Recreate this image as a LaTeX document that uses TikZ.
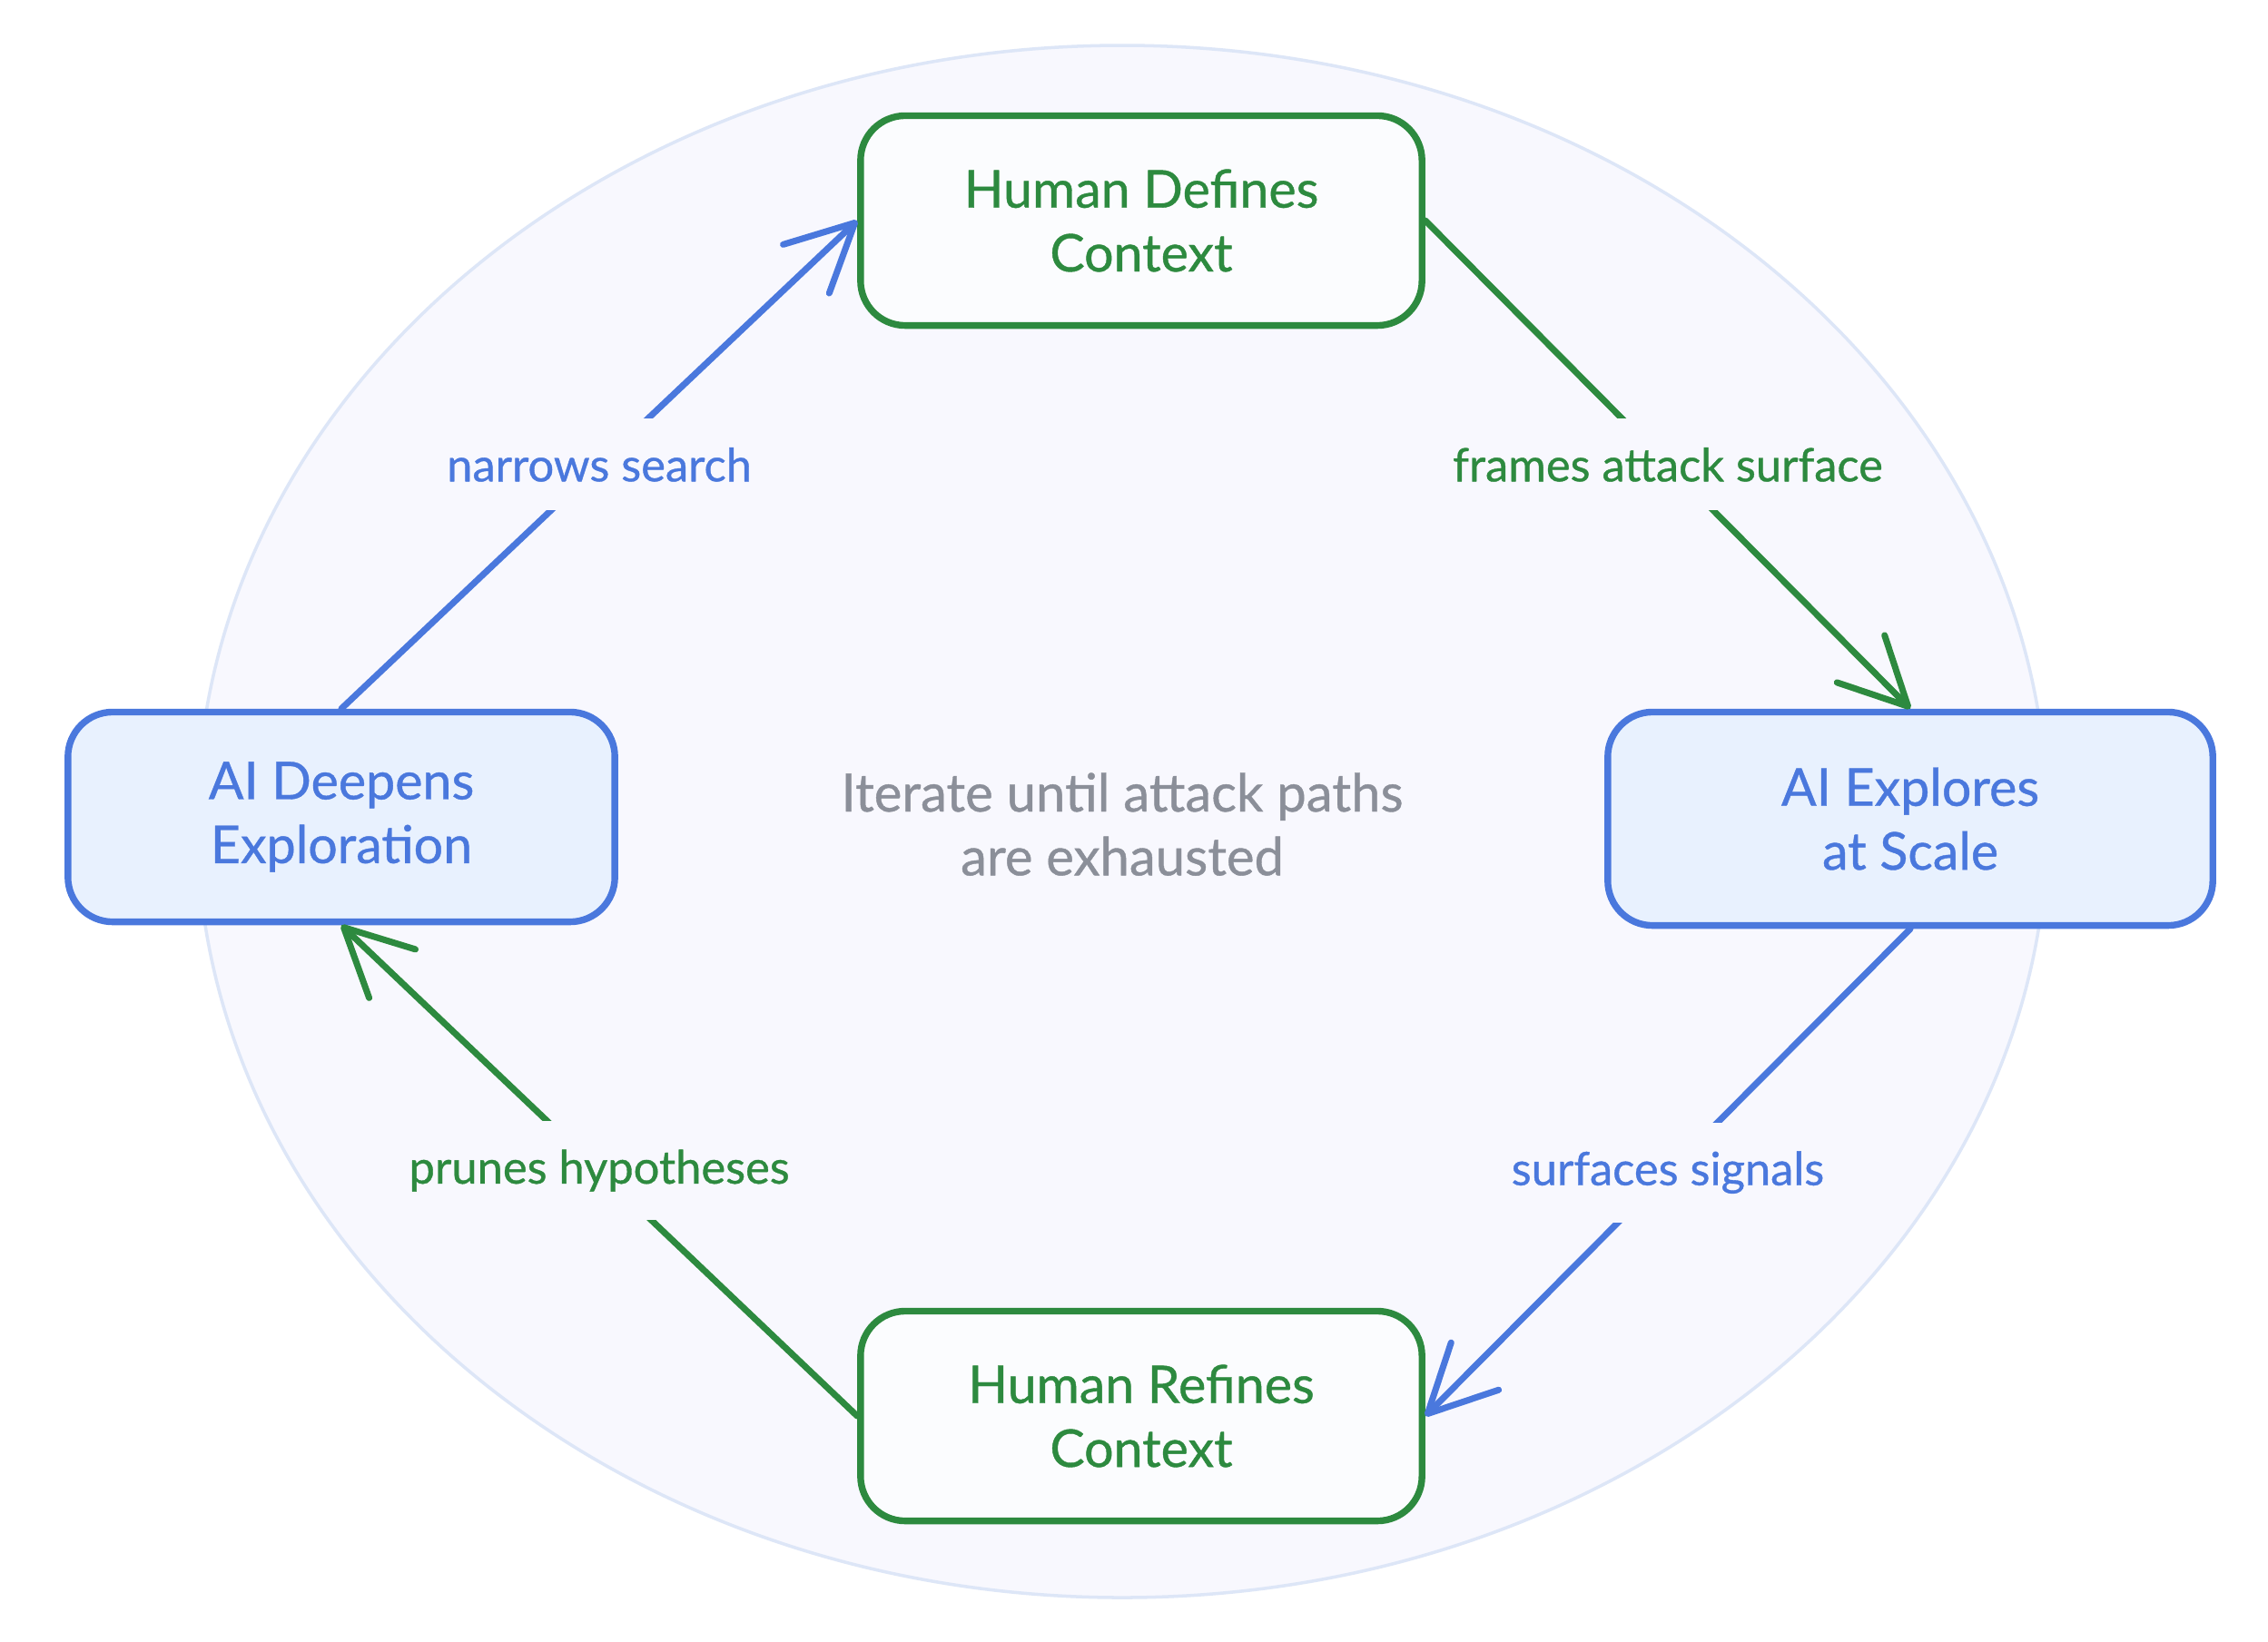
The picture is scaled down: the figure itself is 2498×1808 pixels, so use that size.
\documentclass[tikz,border=0pt]{standalone}
\usepackage{fontspec}
\setmainfont{Lato}[FakeBold=0.7]
\usetikzlibrary{arrows.meta}
\definecolor{gr}{HTML}{2D8A3F}
\definecolor{bl}{HTML}{4A78DD}
\definecolor{blfill}{HTML}{E8F1FE}
\definecolor{grfill}{HTML}{FBFCFE}
\definecolor{gy}{HTML}{8B8F99}
\definecolor{ellfill}{HTML}{F8F8FE}
\definecolor{elldraw}{HTML}{DDE6F7}
\tikzset{
  box/.style={rounded corners=14pt, line width=2.1pt, align=center, inner sep=0pt,
    font=\fontsize{16.3}{20}\selectfont},
  hbox/.style={box, draw=gr, fill=grfill, text=gr},
  abox/.style={box, draw=bl, fill=blfill, text=bl},
  conn/.style={line width=2pt, line cap=round, line join=round,
    -{Straight Barb[length=21pt,width=21pt,line width=2pt,round]}},
  lbl/.style={fill=ellfill, inner sep=9pt, font=\fontsize{14.4}{17}\selectfont},
}
\begin{document}
\begin{tikzpicture}[x=0.01cm,y=-0.01cm]
\path[use as bounding box, fill=white] (0,0) rectangle (2498,1808);
\draw[fill=ellfill, draw=elldraw, line width=1pt] (1236,905) ellipse [x radius=1019, y radius=855];

\node[hbox, minimum width=6.18cm, minimum height=2.31cm] (T) at (1257,243) {Human Defines\\Context};
\node[abox, minimum width=6.66cm, minimum height=2.35cm] (R) at (2104,902) {AI Explores\\at Scale};
\node[abox, minimum width=6.02cm, minimum height=2.31cm] (L) at (376,900) {AI Deepens\\Exploration};
\node[hbox, minimum width=6.18cm, minimum height=2.31cm] (B) at (1257,1560) {Human Refines\\Context};

\node[align=center, text=gy, font=\fontsize{16.5}{20}\selectfont] (C) at (1236,908) {Iterate until attack paths\\are exhausted};

\draw[conn, bl] (L.north) -- node[lbl, text=bl] {narrows search} (T.west);
\draw[conn, gr] (T.east) -- node[lbl, text=gr] {frames attack surface} (R.north);
\draw[conn, bl] (R.south) -- node[lbl, text=bl] {surfaces signals} (B.east);
\draw[conn, gr] (B.west) -- node[lbl, text=gr] {prunes hypotheses} (L.south);
\end{tikzpicture}
\end{document}
